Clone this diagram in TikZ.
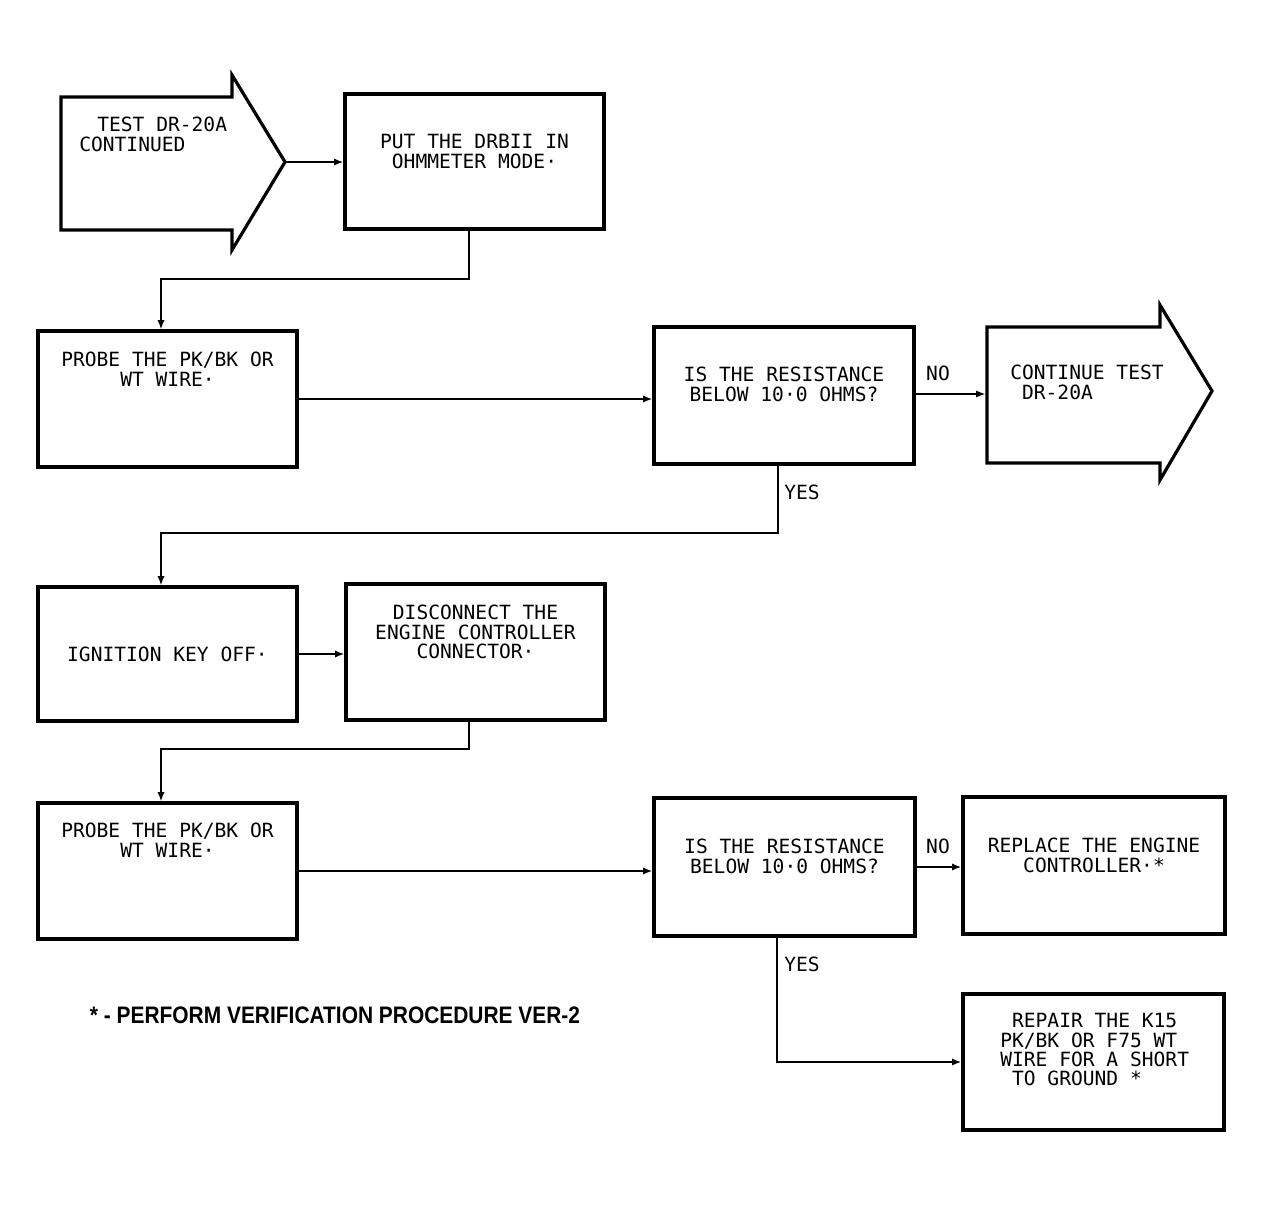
\documentclass[tikz,border=0pt]{standalone}
\usepackage{fontspec}
\usepackage{graphicx}
\newfontfamily\plotfont{DejaVu Sans Mono}
\newfontfamily\notefont{Liberation Sans}
\usetikzlibrary{arrows.meta}
\begin{document}
\begin{tikzpicture}[x=0.75pt,y=-0.75pt,
  frame/.style={draw, line width=2.4pt, line join=miter},
  sz/.style 2 args={minimum width=#1*0.75pt, minimum height=#2*0.75pt, inner sep=0pt},
  txt/.style={font={\plotfont\fontsize{14.7}{14.6}\selectfont}, inner sep=0pt, align=center, anchor=north},
  ltxt/.style={txt, anchor=north west, align=left},
  lab/.style={font={\plotfont\fontsize{14.7}{14.6}\selectfont}, inner sep=0pt},
  link/.style={line width=1.8pt},
  arr/.style={link, -{Latex[length=7pt,width=5.5pt]}}
]
\useasboundingbox (0,0) rectangle (1263,1206);

% start arrow
\draw[frame] (61,97) -- (232,97) -- (232,75) -- (285,162) -- (232,250) -- (232,230) -- (61,230) -- cycle;
\coordinate (sa) at (285,162);
\node[ltxt] (sat) at (79,117) {\hspace*{13.5pt}TEST DR-20A\\CONTINUED};

% boxes
\node[frame, sz={259}{135}] (b1) at (474.5,161.5) {};
\node[txt] (b1t) at (474.5,134) {PUT THE DRBII IN\\OHMMETER MODE·};

\node[frame, sz={259}{136}] (b2) at (167.5,399) {};
\node[txt] (b2t) at (167.5,352) {PROBE THE PK/BK OR\\WT WIRE·};

\node[frame, sz={260}{137}] (d1) at (784,395.5) {};
\node[txt] (d1t) at (784,367) {IS THE RESISTANCE\\BELOW 10·0 OHMS?};

% continue arrow
\draw[frame] (987,327) -- (1160,327) -- (1160,305) -- (1212,391) -- (1160,480) -- (1160,463) -- (987,463) -- cycle;
\coordinate (ca) at (985.5,394);
\node[ltxt] (cat) at (1010,365) {CONTINUE TEST\\\hspace*{8.85pt}DR-20A};

\node[frame, sz={259}{134}] (b3) at (167.5,654) {};
\node[txt] (b3t) at (167.5,647) {IGNITION KEY OFF·};

\node[frame, sz={259}{136}] (b4) at (475.5,652) {};
\node[txt] (b4t) at (475.5,605) {DISCONNECT THE\\ENGINE CONTROLLER\\CONNECTOR·};

\node[frame, sz={259}{136}] (b5) at (167.5,871) {};
\node[txt] (b5t) at (167.5,823) {PROBE THE PK/BK OR\\WT WIRE·};

\node[frame, sz={261}{138}] (d2) at (784.5,867) {};
\node[txt] (d2t) at (784.5,839) {IS THE RESISTANCE\\BELOW 10·0 OHMS?};

\node[frame, sz={262}{137}] (b6) at (1094,865.5) {};
\node[txt] (b6t) at (1094,838) {REPLACE THE ENGINE\\CONTROLLER·*};

\node[frame, sz={261}{136}] (b7) at (1093.5,1062) {};
\node[ltxt] (b7t) at (1000,1013) {\hspace*{8.85pt}REPAIR THE K15\\PK/BK OR F75 WT\\WIRE FOR A SHORT\\\hspace*{8.85pt}TO GROUND *};

% connectors
\draw[arr] (sa) -- (sa -| b1.west);

\coordinate (c1) at (469,279);
\coordinate (c2) at (161,279);
\draw[arr] (c1 |- b1.south) -- (c1) -- (c2) -- (c2 |- b2.north);

\draw[arr] (b2.east) -- (b2.east -| d1.west);
\draw[arr] (d1.east |- ca) -- (ca);
\node[lab] (no1) at (938,373) {NO};

\coordinate (c3) at (778,533);
\coordinate (c4) at (161,533);
\draw[arr] (c3 |- d1.south) -- (c3) -- (c4) -- (c4 |- b3.north);
\node[lab] (yes1) at (802,492) {YES};

\draw[arr] (b3.east) -- (b3.east -| b4.west);

\coordinate (c5) at (469,749);
\coordinate (c6) at (161,749);
\draw[arr] (c5 |- b4.south) -- (c5) -- (c6) -- (c6 |- b5.north);

\draw[arr] (b5.east) -- (b5.east -| d2.west);
\draw[arr] (d2.east) -- (d2.east -| b6.west);
\node[lab] (no2) at (938,846) {NO};

\coordinate (c7) at (777,1062);
\draw[arr] (c7 |- d2.south) -- (c7) -- (b7.west);
\node[lab] (yes2) at (802,964) {YES};

% footnote
\node[inner sep=0pt] (note) at (335,1015) {\resizebox{367.5pt}{12.5pt}{\notefont\bfseries * - PERFORM VERIFICATION PROCEDURE VER-2}};
\end{tikzpicture}
\end{document}
